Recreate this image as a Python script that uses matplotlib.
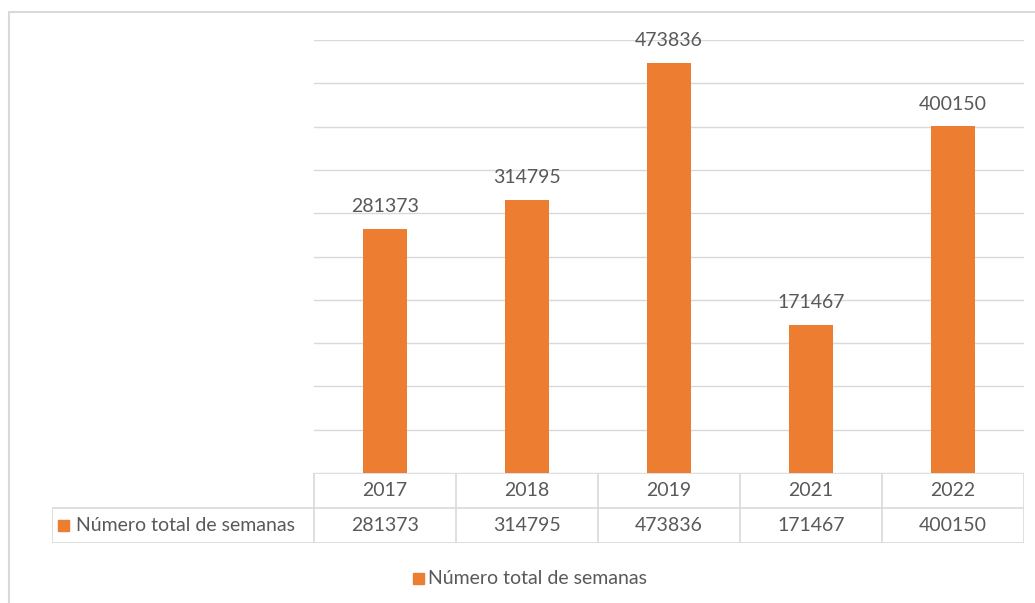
import numpy as np
import matplotlib.pyplot as plt
from matplotlib.patches import Rectangle

years = ["2017", "2018", "2019", "2021", "2022"]
semanas = [281373, 314795, 473836, 171467, 400150]
serie = "Número total de semanas"

orange = "#ED7D31"
grey_txt = "#595959"
grid_c = "#D9D9D9"
plt.rcParams['font.family'] = ['Lato', 'DejaVu Sans']
fs = 14

W, H = 1035, 603
fig = plt.figure(figsize=(W / 100, H / 100), dpi=100)

def px(x0, y0, x1, y1):
    return [x0 / W, 1 - y1 / H, (x1 - x0) / W, (y1 - y0) / H]

# chart border
fig.add_artist(Rectangle((9 / W, -0.1), 1.2, 1 - 12 / H + 0.1, transform=fig.transFigure,
                         fill=False, ec=grid_c, lw=1.5))

ax = fig.add_axes(px(314, 40, 1024, 473))
x = np.arange(len(years))
ax.bar(x, semanas, width=0.31, color=orange, zorder=3)
ax.set_xlim(-0.5, len(years) - 0.5)
ax.set_ylim(0, 500000)
ax.set_yticks(np.arange(0, 500001, 50000))
ax.yaxis.grid(True, color=grid_c, lw=1)
ax.tick_params(left=False, bottom=False, labelleft=False, labelbottom=False)
for s in ax.spines.values():
    s.set_visible(False)
for xi, v in zip(x, semanas):
    ax.annotate(str(v), (xi, v), xytext=(0, 10), textcoords="offset points",
                ha="center", va="bottom", fontsize=fs, color=grey_txt)

# data table
hdr = 262 / 142
tab = fig.add_axes(px(52, 473, 1024, 543))
tab.set_xlim(-0.5 - hdr, len(years) - 0.5)
tab.set_ylim(0, 2)
tab.axis("off")
lc = dict(color=grid_c, lw=1.2)
tab.plot([-0.5, len(years) - 0.5], [2, 2], **lc)
tab.plot([-0.5 - hdr, len(years) - 0.5], [1, 1], **lc)
tab.plot([-0.5 - hdr, len(years) - 0.5], [0, 0], **lc)
tab.plot([-0.5 - hdr] * 2, [0, 1], **lc)
for b in np.arange(len(years) + 1) - 0.5:
    tab.plot([b, b], [0, 2], **lc)
for xi, yr, v in zip(x, years, semanas):
    tab.text(xi, 1.5, yr, ha="center", va="center", fontsize=fs, color=grey_txt)
    tab.text(xi, 0.5, str(v), ha="center", va="center", fontsize=fs, color=grey_txt)
tab.text(-0.5 - hdr + 24 / 142, 0.5, serie, ha="left", va="center", fontsize=fs, color=grey_txt)
fig.add_artist(Rectangle((58 / W, 1 - 531 / H), 11 / W, 11 / H, transform=fig.transFigure,
                         color=orange))

# legend
fig.add_artist(Rectangle((413 / W, 1 - 584 / H), 11 / W, 11 / H, transform=fig.transFigure,
                         color=orange))
fig.text(428 / W, 1 - 578 / H, serie, ha="left", va="center", fontsize=fs, color=grey_txt)

fig.savefig("out.png", dpi=100)
